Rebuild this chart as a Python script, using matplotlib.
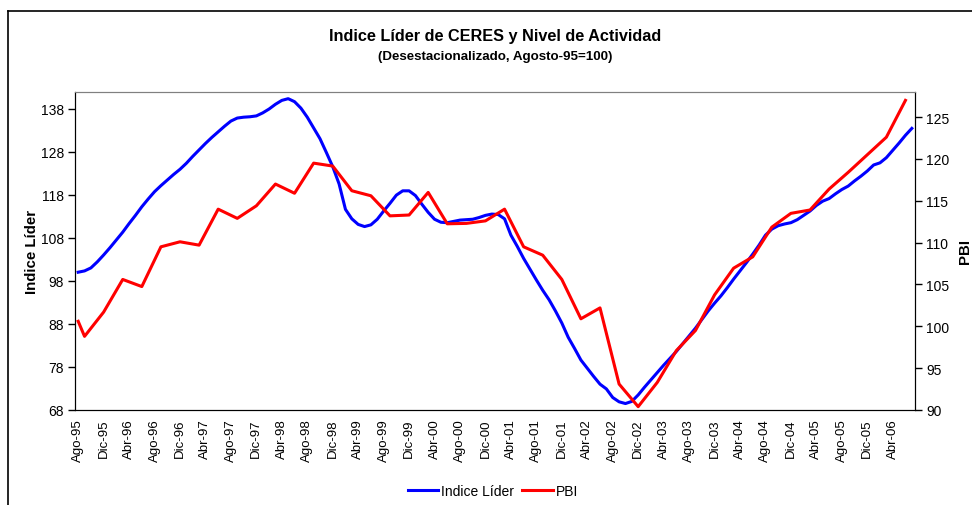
import matplotlib
matplotlib.use("Agg")
import matplotlib.pyplot as plt
from matplotlib.lines import Line2D

plt.rcParams['font.family'] = ['Liberation Sans', 'DejaVu Sans']

# ---- data ----
month_names = ["Ene", "Feb", "Mar", "Abr", "May", "Jun", "Jul", "Ago", "Sep", "Oct", "Nov", "Dic"]
start_year = 1995
start_month = 7  # index of Ago

indice_lider = [
    100.0, 100.3, 101.0, 102.4, 104.0, 105.7, 107.5, 109.3, 111.3, 113.2,
    115.2, 117.0, 118.7, 120.1, 121.4, 122.7, 123.9, 125.3, 126.9, 128.4,
    129.9, 131.3, 132.6, 133.9, 135.1, 135.8, 136.0, 136.1, 136.3, 137.0,
    137.9, 139.0, 139.9, 140.3, 139.6, 138.1, 136.0, 133.5, 131.0, 127.8,
    124.5, 120.5, 114.6, 112.4, 111.1, 110.6, 111.0, 112.3, 114.2, 116.0,
    117.9, 118.9, 118.9, 117.8, 115.8, 113.9, 112.3, 111.6, 111.5, 111.8,
    112.1, 112.2, 112.3, 112.7, 113.2, 113.5, 113.4, 112.4, 108.6, 106.0,
    103.2, 100.7, 98.2, 95.8, 93.6, 91.0, 88.2, 84.9, 82.3, 79.6,
    77.7, 75.8, 74.0, 72.9, 70.9, 69.9, 69.5, 70.0, 71.5, 73.3,
    75.0, 76.7, 78.4, 80.0, 81.6, 83.4, 85.2, 87.0, 89.0, 91.0,
    92.8, 94.5, 96.4, 98.4, 100.3, 102.2, 104.2, 106.3, 108.6, 110.0,
    110.8, 111.2, 111.5, 112.2, 113.2, 114.2, 115.5, 116.5, 117.1, 118.2,
    119.2, 120.0, 121.2, 122.3, 123.5, 124.9, 125.4, 126.6, 128.3, 130.0,
    131.8, 133.4,
]

# PBI: base month (Ago-95) then quarterly values (Sep-95 ... Jun-06), month offsets from Ago-95
pbi_months = [0] + list(range(1, 131, 3))
pbi = [
    100.6, 98.8, 101.7, 105.6, 104.75, 109.5, 110.1, 109.7, 114.0, 112.9,
    114.4, 117.0, 115.9, 119.5, 119.15, 116.2, 115.6, 113.2, 113.3, 116.0,
    112.25, 112.3, 112.6, 114.0, 109.5, 108.5, 105.6, 100.9, 102.2, 93.1,
    90.4, 93.3, 97.1, 99.5, 103.75, 106.95, 108.3, 111.85, 113.5, 113.9,
    116.4, 118.4, 120.5, 122.6, 127.0,
]

left_ticks = [68, 78, 88, 98, 108, 118, 128, 138]
right_ticks = [90, 95, 100, 105, 110, 115, 120, 125]

n = len(indice_lider)
months = list(range(n))
labels = []
for i in months:
    mi = (start_month + i) % 12
    yr = start_year + (start_month + i) // 12
    labels.append(f"{month_names[mi]}-{yr % 100:02d}")
tick_pos = months[::4]
tick_lab = labels[::4]

# ---- figure ----
fig = plt.figure(figsize=(9.72, 5.06), dpi=100)
ax = fig.add_axes([75/972, 1-411/506, (915-75)/972, (411-93)/506])
ax2 = ax.twinx()

l1, = ax.plot(months, indice_lider, color="#0000FF", lw=2.2, label="Indice Líder", solid_joinstyle="round")
l2, = ax2.plot(pbi_months, pbi, color="#FF0000", lw=2.2, label="PBI", solid_joinstyle="round")

ax.set_xlim(-0.5, n - 0.5)
ax.set_ylim(68, 141.85)
ax2.set_ylim(90, 128.0)
ax.set_yticks(left_ticks)
ax2.set_yticks(right_ticks)
ax.set_xticks(tick_pos)
ax.set_xticklabels(tick_lab, rotation=90, fontsize=9.5)
ax.tick_params(axis='x', length=0, pad=6)
ax.tick_params(axis='y', direction='out', length=5, width=1, labelsize=10, pad=3)
ax2.tick_params(axis='y', direction='out', length=5, width=1, labelsize=10, pad=3)

for a in (ax, ax2):
    a.spines['top'].set_color('#808080')
    for s in ('left', 'right', 'bottom'):
        a.spines[s].set_color('black')

ax.set_ylabel("Indice Líder", fontsize=10.8, fontweight='bold', labelpad=1)
ax2.set_ylabel("PBI", fontsize=10.8, fontweight='bold', labelpad=6)

fig.text(495/972, 1-37/506, "Indice Líder de CERES y Nivel de Actividad",
         ha='center', va='center', fontsize=11.7, fontweight='bold')
fig.text(495/972, 1-57/506, "(Desestacionalizado, Agosto-95=100)",
         ha='center', va='center', fontsize=9.6, fontweight='bold')

fig.legend(handles=[l1, l2], loc='center', bbox_to_anchor=(493/972, 1-492/506),
           ncol=2, frameon=False, fontsize=10, handlelength=2.2, handletextpad=0.2,
           columnspacing=0.6)

# outer chart border (top and left edges visible)
fig.add_artist(Line2D([7.5/972, 1.0], [1-11.5/506, 1-11.5/506], color='black', lw=1.2, transform=fig.transFigure))
fig.add_artist(Line2D([7.5/972, 7.5/972], [1-11.5/506, 0.0], color='black', lw=1.2, transform=fig.transFigure))

fig.savefig("out.png", dpi=100)
